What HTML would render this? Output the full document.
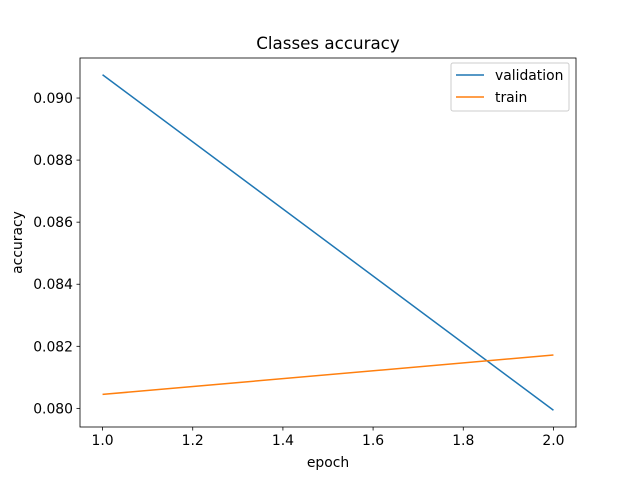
<!DOCTYPE html>
<html><head><meta charset="utf-8"><style>
body{margin:0;background:#fff;}
svg text{font-family:"DejaVu Sans","Liberation Sans",sans-serif;}
</style></head><body>
<svg id="chart" width="640" height="480" xmlns="http://www.w3.org/2000/svg">
<rect width="640" height="480" fill="#fff"/>
<text x="328" y="49" font-size="16.7" text-anchor="middle">Classes accuracy</text>
<g id="plot"></g>
<rect x="80" y="58" width="496" height="369" fill="none" stroke="#000" stroke-width="0.8"/>
<text x="328" y="467" font-size="13.9" text-anchor="middle">epoch</text>
<text transform="translate(22,242.5) rotate(-90)" font-size="13.9" text-anchor="middle">accuracy</text>
<g>
<rect x="451" y="63" width="118" height="48" rx="2" fill="#fff" fill-opacity="0.8" stroke="#ccc" stroke-width="1"/>
<line x1="456" y1="75" x2="484" y2="75" stroke="#1f77b4" stroke-width="1.5"/>
<text x="495" y="80" font-size="13.9">validation</text>
<line x1="456" y1="97" x2="484" y2="97" stroke="#ff7f0e" stroke-width="1.5"/>
<text x="495" y="102" font-size="13.9">train</text>
</g>
</svg>
<script>
const epochs=[1,2];
const validation=[0.09075,0.07994];
const train=[0.08045,0.08172];
const xTicks=[1.0,1.2,1.4,1.6,1.8,2.0];
const yTicks=[0.080,0.082,0.084,0.086,0.088,0.090];
const X0=80,X1=576,Y0=58,Y1=427;
const xmin=0.95,xmax=2.05,ymin=0.0794,ymax=0.09129;
function sx(v){return X0+(v-xmin)/(xmax-xmin)*(X1-X0);}
function sy(v){return Y1-(v-ymin)/(ymax-ymin)*(Y1-Y0);}
const NS="http://www.w3.org/2000/svg";
const g=document.getElementById('plot');
function mk(t,a){const e=document.createElementNS(NS,t);for(const k in a)e.setAttribute(k,a[k]);g.appendChild(e);return e;}
xTicks.forEach(v=>{
const l=mk('line',{x1:sx(v),x2:sx(v),y1:Y1,y2:Y1+3.5,stroke:'#000','stroke-width':0.8});


const t=mk('text',{x:sx(v),y:Y1+18,'font-size':13.9,'text-anchor':'middle'});t.textContent=v.toFixed(1);


});
yTicks.forEach(v=>{
const l=mk('line',{x1:X0-3.5,x2:X0,y1:sy(v),y2:sy(v),stroke:'#000','stroke-width':0.8});


const t=mk('text',{x:X0-7,y:sy(v)+5,'font-size':13.9,'text-anchor':'end'});t.textContent=v.toFixed(3);


});
function line(vals,color,name){
const p=mk('polyline',{points:epochs.map((e,i)=>sx(e)+','+sy(vals[i])).join(' '),fill:'none',stroke:color,'stroke-width':1.5});


}
line(validation,'#1f77b4','validation-line');
line(train,'#ff7f0e','train-line');
</script>
</body></html>
